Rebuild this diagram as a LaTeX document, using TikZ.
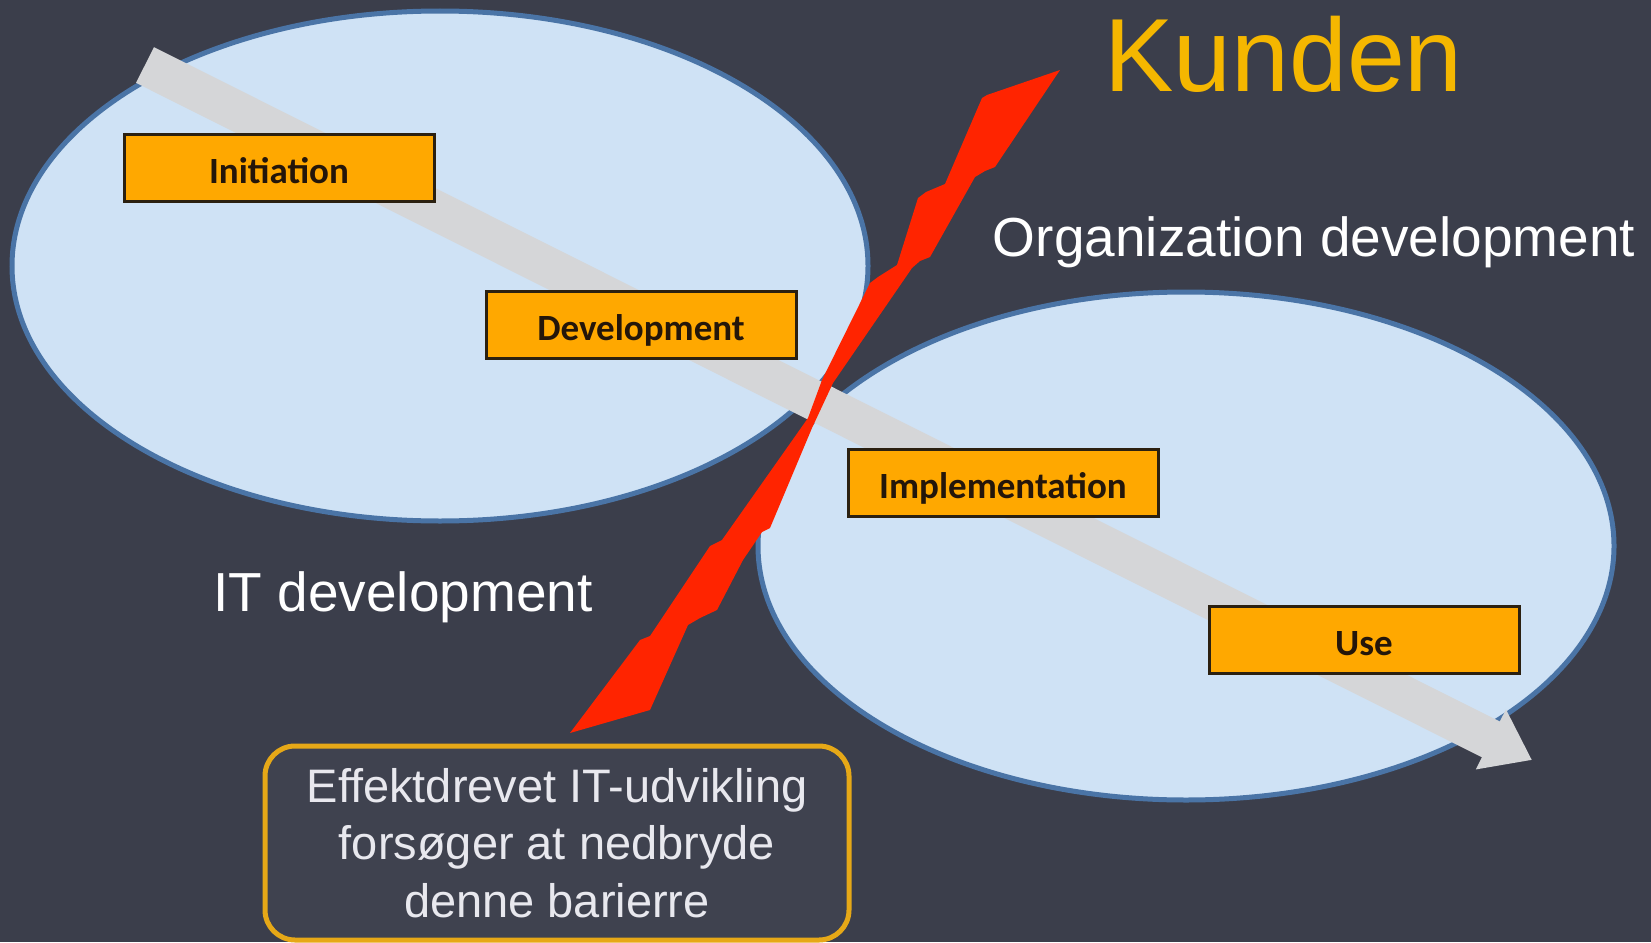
\documentclass[tikz,border=0pt]{standalone}
\usepackage{fontspec}
\setmainfont{Liberation Sans}
\newfontfamily\boxfont{Carlito}
\usetikzlibrary{arrows.meta,shapes.geometric}
\definecolor{bg}{HTML}{3B3E4B}
\definecolor{ellfill}{HTML}{CFE2F5}
\definecolor{elldraw}{HTML}{4A74A6}
\definecolor{arrowgray}{HTML}{D5D6D8}
\definecolor{stepor}{HTML}{FFA800}
\definecolor{stepdraw}{HTML}{2B2010}
\definecolor{steptext}{HTML}{24160A}
\definecolor{boltred}{HTML}{FF2400}
\definecolor{kundencol}{HTML}{F5B700}
\definecolor{notebd}{HTML}{E6A817}
\definecolor{notetext}{HTML}{E8E8EE}
\begin{document}
\begin{tikzpicture}[x=1pt,y=-1pt,
  region/.style={ellipse, draw=elldraw, line width=5pt, fill=ellfill, inner sep=0pt},
  phase/.style={draw=stepdraw, line width=3pt, fill=stepor, minimum width=310pt,
    minimum height=67pt, inner sep=0pt, text=steptext, text height=30pt, text depth=0pt,
    font=\boxfont\bfseries\fontsize{37}{45}\selectfont},
  flow/.style={draw=arrowgray, line width=40pt, line cap=butt,
    -{Triangle[length=46pt,width=64pt]}},
  label/.style={text=white, inner sep=0pt, anchor=base, font=\fontsize{55}{66}\selectfont},
  note/.style={draw=notebd, line width=5pt, rounded corners=30pt, fill=bg!98!white,
    minimum width=584pt, minimum height=194pt, align=center, text=notetext,
    font=\fontsize{47}{57.4}\selectfont}]
\fill[bg] (0,0) rectangle (1651,942);
\useasboundingbox (0,0) rectangle (1651,942);
% regions
\node[region, minimum width=856pt, minimum height=510pt] (itreg) at (440,266) {};
\node[region, minimum width=856pt, minimum height=508pt] (orgreg) at (1186,546) {};
% flow arrow
\coordinate (astart) at (145,65);
\coordinate (atip) at (1532,760);
\draw[flow] (astart) -- (atip);
% phases
\node[phase] (init) at (279,168) {Initiation};
\node[phase] (dev) at (641,325) {Development};
\node[phase] (impl) at (1003,483) {Implementation};
\node[phase] (use) at (1364,640) {Use};
% lightning barrier
\fill[boltred] (1060,70) -- (995,167) -- (985,171) -- (975,177) -- (930,257) -- (920,261)
  -- (912,268) -- (833,383) -- (812,428) -- (770,528) -- (762,532) -- (743,560)
  -- (717,610) -- (700,618) -- (688,625) -- (650,710) -- (570,733) -- (640,640)
  -- (650,636) -- (710,546) -- (722,540) -- (808,418) -- (822,380) -- (870,283)
  -- (878,277) -- (897,265) -- (918,198) -- (926,192) -- (945,184) -- (982,98)
  -- (987,95) -- cycle;
% labels
\node[inner sep=0pt, anchor=base west, text=kundencol, font=\fontsize{104}{120}\selectfont]
  (kunden) at (1104,91) {Kunden};
\node[label] (orgdev) at (1314,256) {Organization development};
\node[label] (itdev) at (403,611) {IT development};
% note
\node[note] (notebox) at (557,843) {Effektdrevet IT-udvikling\\forsøger at nedbryde\\denne barierre};
\end{tikzpicture}
\end{document}
